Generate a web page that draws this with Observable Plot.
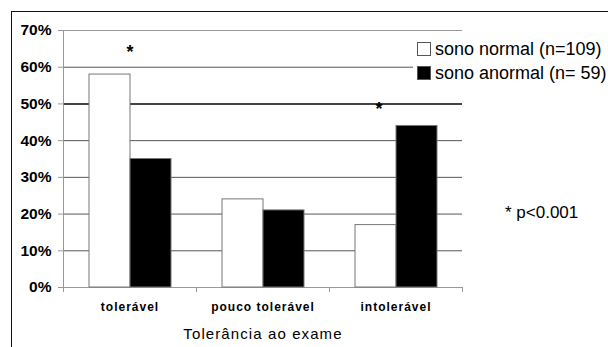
<!DOCTYPE html>
<html>
<head>
<meta charset="utf-8">
<script src="https://cdn.jsdelivr.net/npm/d3@7"></script>
<script src="https://cdn.jsdelivr.net/npm/@observablehq/plot@0.6"></script>
<style>
  html, body { margin: 0; padding: 0; background: #fff; }
  #wrap { position: relative; width: 608px; height: 347px; overflow: hidden; font-family: "Liberation Sans", Arial, sans-serif; }
  #wrap svg { position: absolute; left: 0; top: 0; }
  #border { position: absolute; left: 11px; top: 11px; width: 620px; height: 400px; border-left: 1.5px solid #111; border-top: 1.5px solid #111; }
  #legend { position: absolute; left: 413px; top: 36px; width: 200px; height: 50px; background: #fff; font-size: 18px; color: #000; }
  .item { position: absolute; left: 4px; height: 22px; line-height: 22px; white-space: nowrap; }
  .sw { display: inline-block; width: 12px; height: 12px; border: 1px solid #555; vertical-align: -1px; margin-right: 4px; }
  #pval { position: absolute; left: 505px; top: 203px; font-size: 17px; white-space: nowrap; }
</style>
</head>
<body>
<div id="wrap"></div>
<script>
const categories = ["tolerável", "pouco tolerável", "intolerável"];
const seriesNames = ["sono normal (n=109)", "sono anormal (n= 59)"];
const normalValues = [58, 24, 17];
const anormalValues = [35, 21, 44];
const yTicks = [0, 10, 20, 30, 40, 50, 60, 70];
const axisTitle = "Tolerância ao exame";
const note = "* p<0.001";

const data = [];
categories.forEach((c, i) => {
  data.push({cat: c, series: seriesNames[0], value: normalValues[i]});
  data.push({cat: c, series: seriesNames[1], value: anormalValues[i]});
});
const starTop = [{cat: categories[0], y: 65}];
const starMid = [{cat: categories[2], y: 50}];

const font = '"Liberation Sans", Arial, sans-serif';
const ml = 63, mr = 146;
const band = (608 - ml - mr) / categories.length;

const chart = Plot.plot({
  width: 608,
  height: 347,
  marginLeft: ml,
  marginRight: mr,
  marginTop: 30,
  marginBottom: 60,
  style: {fontFamily: font, background: "transparent", overflow: "visible"},
  fx: {domain: categories, padding: 0, axis: null},
  x: {domain: seriesNames, paddingInner: 0, paddingOuter: 0.6, axis: null},
  y: {domain: [0, 70], axis: null},
  color: {domain: seriesNames, range: ["#ffffff", "#000000"]},
  marks: [
    Plot.ruleY(yTicks.filter(d => d > 0 && d < 70 && d !== 50), {stroke: "#555", strokeWidth: 1}),
    Plot.ruleY([50], {stroke: "#444", strokeWidth: 2}),
    Plot.ruleY([70], {stroke: "#999", strokeWidth: 1}),
    Plot.ruleY([0], {stroke: "#999", strokeWidth: 1}),
    Plot.frame({anchor: "left", facet: "super", stroke: "#999"}),
    Plot.barY(data, {fx: "cat", x: "series", y: "value", fill: "series", stroke: "#777", strokeWidth: 1}),
    Plot.axisY({ticks: yTicks, tickFormat: d => d + "%", tickSize: 5, tickPadding: 7, stroke: "#999",
      fontSize: 15.5, fontWeight: "bold", fill: "#000", label: null}),
    Plot.axisFx({anchor: "bottom", text: null, tickSize: 5, dx: -band / 2, stroke: "#999", label: null}),
    Plot.axisFx({anchor: "bottom", text: null, tickSize: 5, dx: band / 2, stroke: "#999", label: null}),
    Plot.axisFx({anchor: "bottom", tickSize: 0, tickPadding: 15, fontSize: 12, fontWeight: "bold", fill: "#000",
      label: null}),
    Plot.text([axisTitle], {facet: "super", frameAnchor: "bottom", dy: 51, fontSize: 15, fill: "#000"}),
    Plot.text(starTop, {fx: "cat", y: "y", text: () => "*", fontSize: 18, fontWeight: "bold", dy: 3}),
    Plot.text(starMid, {fx: "cat", y: "y", text: () => "*", fontSize: 18, fontWeight: "bold", dy: 5, dx: -17})
  ]
});

d3.select(chart).selectAll("text")
  .filter(function () { return categories.includes(this.textContent); })
  .style("letter-spacing", "1px");
d3.select(chart).selectAll("text")
  .filter(function () { return this.textContent === axisTitle; })
  .style("letter-spacing", "1.1px");

const wrap = document.getElementById("wrap");
wrap.appendChild(chart);
const border = document.createElement("div");
border.id = "border";
wrap.appendChild(border);

const legend = document.createElement("div");
legend.id = "legend";
seriesNames.forEach((s, i) => {
  const it = document.createElement("div");
  it.className = "item";
  it.style.top = (i === 0 ? 2 : 26) + "px";
  const sw = document.createElement("span");
  sw.className = "sw";
  sw.style.background = i === 0 ? "#fff" : "#000";
  it.appendChild(sw);
  it.appendChild(document.createTextNode(s));
  legend.appendChild(it);
});
wrap.appendChild(legend);

const p = document.createElement("div");
p.id = "pval";
p.textContent = note;
wrap.appendChild(p);
</script>
</body>
</html>
